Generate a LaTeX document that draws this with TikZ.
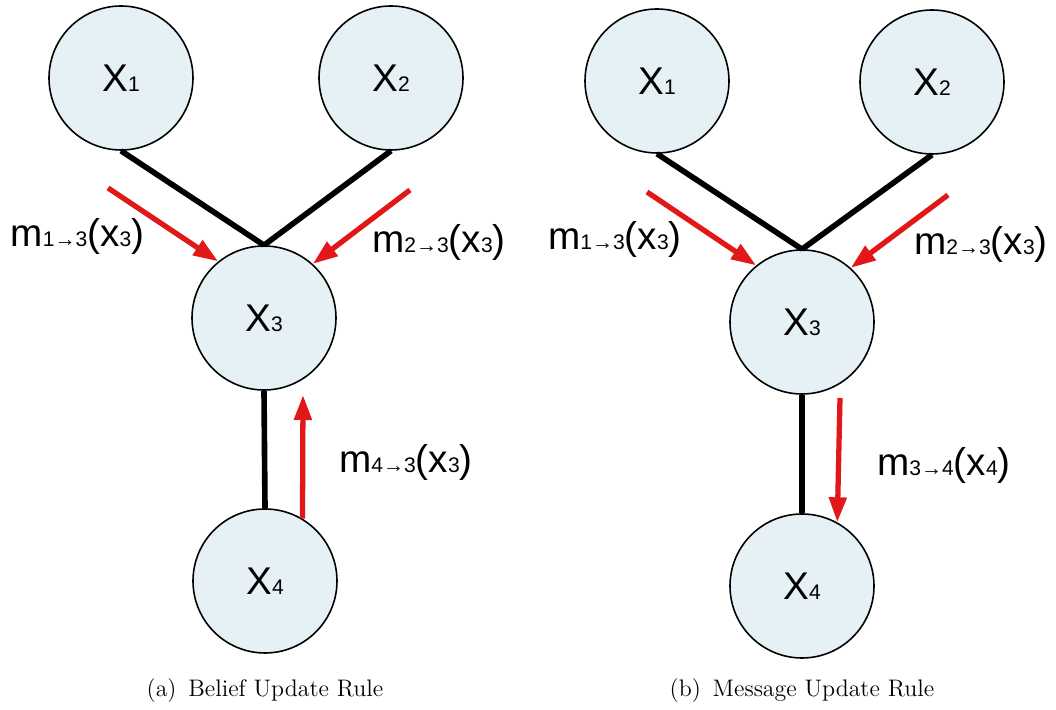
\documentclass[tikz,border=0pt]{standalone}
\usepackage{fontspec}
\newfontfamily\graphfont{Liberation Sans}
\usetikzlibrary{arrows.meta,positioning}
\definecolor{nodefill}{RGB}{229,241,245}
\definecolor{msgred}{RGB}{226,24,24}
\newcommand{\lbl}[1]{{\fontsize{12}{12}\selectfont #1}}

\begin{document}
\begin{tikzpicture}[x=1cm,y=1cm]
\tikzset{
  varnode/.style={circle,draw,line width=0.9pt,fill=nodefill,minimum size=2.88cm,inner sep=0pt,font=\graphfont\fontsize{22}{22}\selectfont},
  link/.style={line width=3.2pt},
  message/.style={-{Triangle[length=5mm,width=3.4mm]},line width=3pt,draw=msgred},
  msglabel/.style={font=\graphfont\fontsize{22}{22}\selectfont,inner sep=0pt},
  caption/.style={font=\fontsize{13.6}{16}\selectfont}
}
\useasboundingbox (0,0) rectangle (21.12,14.2);
% (a) belief update
\node[varnode] (n_A1) at (2.42,12.64) {X\lbl{1}};
\node[varnode] (n_A2) at (7.82,12.64) {X\lbl{2}};
\node[varnode] (n_A3) at (5.28,7.84) {X\lbl{3}};
\node[varnode] (n_A4) at (5.30,2.58) {X\lbl{4}};
\draw[link] (n_A1.south) -- (n_A3.north);
\draw[link] (n_A2.south) -- (n_A3.north);
\draw[link] (n_A3.south) -- (n_A4.north);
\coordinate (c_A13) at (2.16,10.44);
\coordinate (c_A23) at (8.20,10.40);
\coordinate (c_A43) at (6.06,6.30);
\draw[message] (c_A13) -- (n_A3.129);
\draw[message] (c_A23) -- (n_A3.48);
\draw[message] (n_A4.59) -- (c_A43);
\node[msglabel] (l_A13) at (1.55,9.46) {m\lbl{1→3}(x\lbl{3})};
\node[msglabel] (l_A23) at (8.78,9.34) {m\lbl{2→3}(x\lbl{3})};
\node[msglabel] (l_A43) at (8.12,4.96) {m\lbl{4→3}(x\lbl{3})};
\node[caption,below=0.37cm of n_A4] (cap_A) {(a)\, Belief Update Rule};
% (b) message update
\node[varnode] (n_B1) at (13.14,12.58) {X\lbl{1}};
\node[varnode] (n_B2) at (18.64,12.56) {X\lbl{2}};
\node[varnode] (n_B3) at (16.04,7.76) {X\lbl{3}};
\node[varnode] (n_B4) at (16.04,2.48) {X\lbl{4}};
\draw[link] (n_B1.south) -- (n_B3.north);
\draw[link] (n_B2.south) -- (n_B3.north);
\draw[link] (n_B3.south) -- (n_B4.north);
\coordinate (c_B13) at (12.94,10.36);
\coordinate (c_B23) at (18.96,10.30);
\coordinate (c_B34) at (16.80,6.24);
\draw[message] (c_B13) -- (n_B3.129);
\draw[message] (c_B23) -- (n_B3.48);
\draw[message] (c_B34) -- (n_B4.61);
\node[msglabel] (l_B13) at (12.30,9.40) {m\lbl{1→3}(x\lbl{3})};
\node[msglabel] (l_B23) at (19.62,9.30) {m\lbl{2→3}(x\lbl{3})};
\node[msglabel] (l_B34) at (18.88,4.90) {m\lbl{3→4}(x\lbl{4})};
\node[caption,below=0.27cm of n_B4] (cap_B) {(b)\, Message Update Rule};
\end{tikzpicture}
\end{document}
